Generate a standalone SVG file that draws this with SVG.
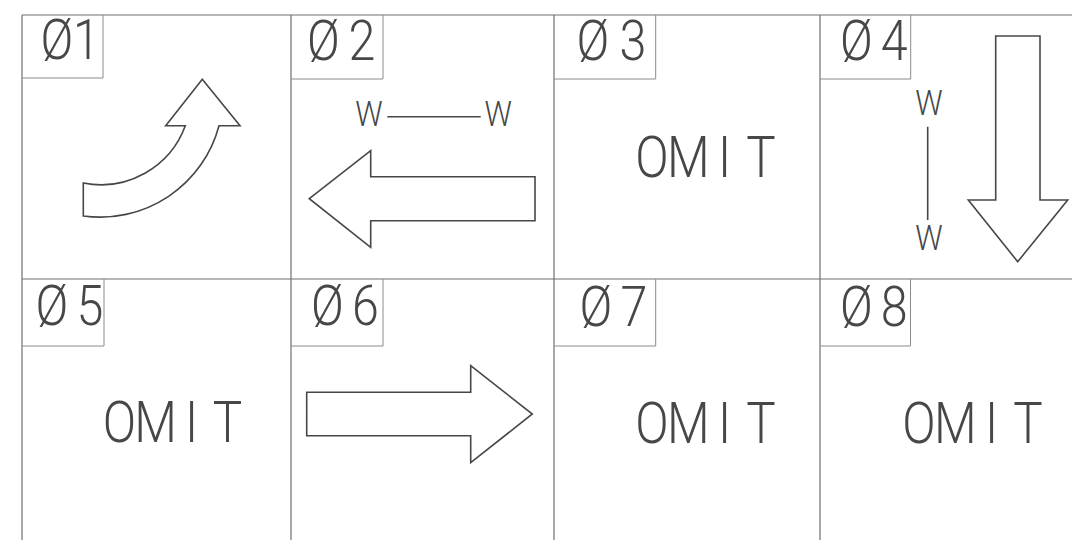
<svg xmlns="http://www.w3.org/2000/svg" width="1072" height="540" viewBox="0 0 1072 540">
<style>
.grid{fill:none;stroke:#707070;stroke-width:1.2}
.box{fill:none;stroke:#8a8a8a;stroke-width:1}
.shape{fill:#fff;stroke:#474747;stroke-width:1.6;stroke-linejoin:miter}
.lead{stroke:#474747;stroke-width:1.6}
.t{font-family:Roboto,"DejaVu Sans",sans-serif;font-weight:300;fill:#474747;text-anchor:middle}
.lbl{font-size:55px}
.big{font-size:58px}
.w{font-size:36px}
</style>
<rect width="1072" height="540" fill="#fff"/>
<g id="grid">
<path class="grid" d="M22,15H1072M22,279H1072M22,15V540M291,15V540M554,15V540M820,15V540"/>
</g>
<g id="cell-01">
<path class="box" d="M22,78H103V15"/>
<g transform="translate(57,59) scale(0.88,1)"><text class="t lbl" x="0 33.5">Ø1</text></g>
<path class="shape" d="M185.3,125.7A90,90 0 0 1 83.3,183L83.3,216A123,123 0 0 0 219,125.7L240,125.7L202.3,79.3L165.7,125.7Z"/>
</g>
<g id="cell-02">
<path class="box" d="M291,79H383V15"/>
<g transform="translate(323.5,60) scale(0.88,1)"><text class="t lbl" x="0 43.75">Ø2</text></g>
<g transform="translate(369,126) scale(0.85,1)"><text class="t w" x="0">W</text></g>
<line class="lead" x1="387.3" y1="116.7" x2="480.7" y2="116.7"/>
<g transform="translate(498.3,126) scale(0.85,1)"><text class="t w" x="0">W</text></g>
<path class="shape" d="M309.3,198.7L370.7,150.7V176.7H535V220.7H370.7V247.3Z"/>
</g>
<g id="cell-03">
<path class="box" d="M554,79H655.7V15"/>
<g transform="translate(593,60) scale(0.88,1)"><text class="t lbl" x="0 45.5">Ø3</text></g>
<g transform="translate(652,177) scale(0.85,1)"><text class="t big" x="0 42.75 85.5 128.25">OMIT</text></g>
</g>
<g id="cell-04">
<path class="box" d="M820,79H910.7V15"/>
<g transform="translate(856.3,60) scale(0.88,1)"><text class="t lbl" x="0 43.1">Ø4</text></g>
<g transform="translate(929,115) scale(0.85,1)"><text class="t w" x="0">W</text></g>
<line class="lead" x1="927.7" y1="126.7" x2="927.7" y2="220"/>
<g transform="translate(929,250) scale(0.85,1)"><text class="t w" x="0">W</text></g>
<path class="shape" d="M995.7,36H1040V200H1067.7L1017.7,261.7L968.3,200H995.7Z"/>
</g>
<g id="cell-05">
<path class="box" d="M22,346H104V279"/>
<g transform="translate(52,325) scale(0.88,1)"><text class="t lbl" x="0 43.2">Ø5</text></g>
<g transform="translate(119.5,442) scale(0.85,1)"><text class="t big" x="0 42.35 84.7 127.05">OMIT</text></g>
</g>
<g id="cell-06">
<path class="box" d="M291,346H383V279"/>
<g transform="translate(327.5,325) scale(0.88,1)"><text class="t lbl" x="0 43">Ø6</text></g>
<path class="shape" d="M306.7,392.3H470.7V365.7L532.3,414L470.7,462.7V435.7H306.7Z"/>
</g>
<g id="cell-07">
<path class="box" d="M554,346H655.7V279"/>
<g transform="translate(596,326) scale(0.88,1)"><text class="t lbl" x="0 43.2">Ø7</text></g>
<g transform="translate(652,443) scale(0.85,1)"><text class="t big" x="0 42.75 85.5 128.25">OMIT</text></g>
</g>
<g id="cell-08">
<path class="box" d="M820,346H910.5V279"/>
<g transform="translate(856.5,326) scale(0.88,1)"><text class="t lbl" x="0 42.8">Ø8</text></g>
<g transform="translate(919,443) scale(0.85,1)"><text class="t big" x="0 42.75 85.5 128.25">OMIT</text></g>
</g>
</svg>
